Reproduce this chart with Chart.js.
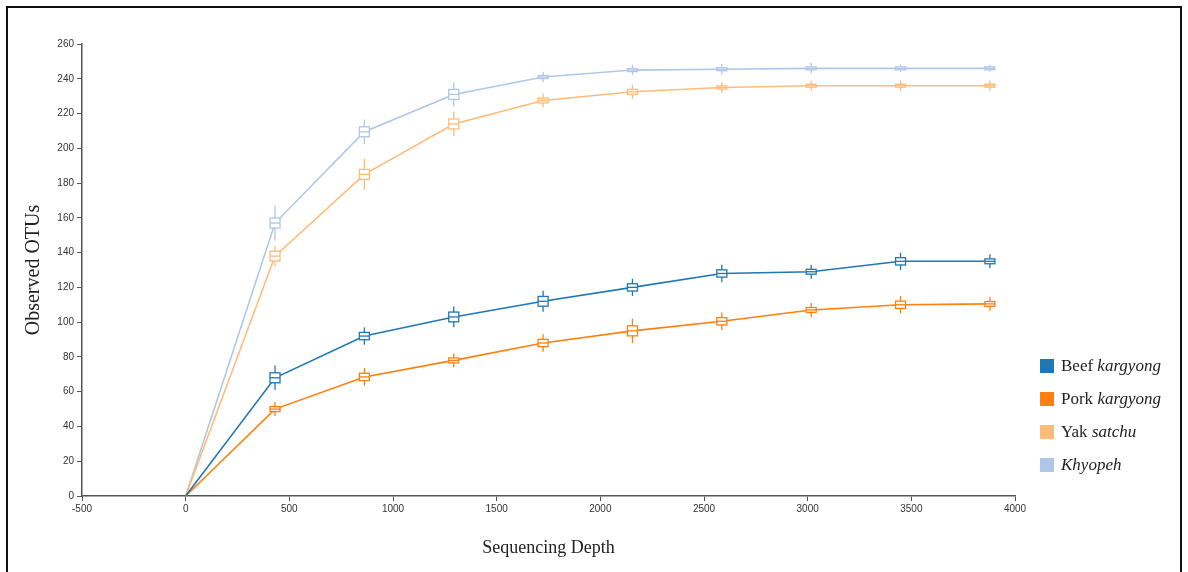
<!DOCTYPE html>
<html>
<head>
<meta charset="utf-8">
<script src="https://cdn.jsdelivr.net/npm/chart.js@4/dist/chart.umd.min.js"></script>
<style>
  body { margin: 0; background: #fff; overflow: hidden; }
  #frame { position: absolute; left: 6px; top: 6px; width: 1172px; height: 600px; border: 2px solid #111; }
  #wrap { position: absolute; left: 0; top: 0; width: 1188px; height: 572px; }
  #legend { position: absolute; left: 1040px; top: 349px; font-family: "Liberation Serif", "Times New Roman", serif; font-size: 17px; color: #222; }
  .item { display: flex; align-items: center; height: 33px; }
  .swatch { width: 14px; height: 14px; margin-right: 7px; }
</style>
</head>
<body>
<div id="frame"></div>
<div id="wrap"><canvas id="rarefaction"></canvas></div>
<div id="legend"></div>
<script>
const depths = [0, 431, 862, 1293, 1724, 2155, 2586, 3017, 3448, 3879];

const beefKargyong = [0, 68, 92, 103, 112, 120, 128, 129, 135, 135];
const porkKargyong = [0, 50, 68.5, 78, 88, 95, 100.5, 107, 110, 110.5];
const yakSatchu = [0, 138, 185, 214, 227.5, 232.5, 235, 236, 236, 236];
const khyopeh = [0, 157, 209.5, 231, 241, 245, 245.5, 246, 246, 246];

// whisker half spans
const beefSpread = [0, 5, 3, 4, 4, 3, 3, 2, 3, 2];
const porkSpread = [0, 2, 3, 2, 3, 5, 3, 2, 3, 2];
const yakSpread = [0, 4, 7, 5, 2, 2, 1, 1, 1, 1];
const khyopehSpread = [0, 8, 5, 5, 1, 1, 1, 1, 0, 0];

const seriesLabels = [
  ["Beef ", "kargyong"],
  ["Pork ", "kargyong"],
  ["Yak ", "satchu"],
  ["", "Khyopeh"]
];
const seriesColors = ["#1f77b4", "#ff7f0e", "#ffbb78", "#aec7e8"];

const yTicks = [0, 260, 20];
const xTicks = [-500, 4000, 500];

function toPoints(values) {
  return depths.map((d, i) => ({ x: d, y: values[i] }));
}

const seriesValues = [beefKargyong, porkKargyong, yakSatchu, khyopeh];
const seriesSpread = [beefSpread, porkSpread, yakSpread, khyopehSpread];

const boxPlugin = {
  id: "boxMarkers",
  afterDatasetsDraw(chart) {
    const ctx = chart.ctx;
    const xs = chart.scales.x;
    const ys = chart.scales.y;
    ctx.save();
    chart.data.datasets.forEach((ds, k) => {
      const vals = seriesValues[k];
      const spread = seriesSpread[k];
      ctx.strokeStyle = ds.borderColor;
      ctx.lineWidth = 1.3;
      depths.forEach((d, i) => {
        if (d === 0) return;
        const px = xs.getPixelForValue(d);
        const py = ys.getPixelForValue(vals[i]);
        const top = ys.getPixelForValue(vals[i] + spread[i] + 2);
        const bot = ys.getPixelForValue(vals[i] - spread[i] - 2);
        const half = Math.min(5, Math.max(1.5, (py - ys.getPixelForValue(vals[i] + spread[i])) * 0.7));
        ctx.beginPath();
        ctx.moveTo(px, top);
        ctx.lineTo(px, bot);
        ctx.stroke();
        ctx.fillStyle = "#fff";
        ctx.fillRect(px - 5, py - half, 10, half * 2);
        ctx.strokeRect(px - 5, py - half, 10, half * 2);
        ctx.beginPath();
        ctx.moveTo(px - 5, py);
        ctx.lineTo(px + 5, py);
        ctx.stroke();
      });
    });
    ctx.restore();
  }
};

const datasets = seriesValues.map((vals, k) => ({
  label: seriesLabels[k].join(""),
  data: toPoints(vals),
  borderColor: seriesColors[k],
  backgroundColor: seriesColors[k],
  borderWidth: 1.6,
  pointRadius: 0,
  tension: 0
}));

const axisColor = "#555";
const tickFont = { family: "Liberation Sans, Arial, sans-serif", size: 10 };

new Chart(document.getElementById("rarefaction"), {
  type: "line",
  data: { datasets: datasets },
  options: {
    responsive: true,
    maintainAspectRatio: false,
    animation: false,
    layout: { padding: { left: 22, top: 44, right: 173, bottom: 0 } },
    plugins: { legend: { display: false }, tooltip: { enabled: false } },
    scales: {
      x: {
        type: "linear",
        min: xTicks[0],
        max: xTicks[1],
        ticks: {
          stepSize: xTicks[2],
          color: "#333",
          font: tickFont,
          padding: 2,
          callback: (value) => String(value)
        },
        grid: { drawOnChartArea: false, tickLength: 5, color: axisColor },
        border: { color: axisColor, width: 1.5 },
        title: {
          display: true,
          text: "Sequencing Depth",
          color: "#222",
          font: { family: "Liberation Serif, Times New Roman, serif", size: 18 },
          padding: { top: 0, bottom: 13 }
        },
        afterFit(scale) { scale.height = 76; }
      },
      y: {
        min: yTicks[0],
        max: yTicks[1],
        ticks: { stepSize: yTicks[2], color: "#333", font: tickFont, padding: 3 },
        grid: { drawOnChartArea: false, tickLength: 5, color: axisColor },
        border: { color: axisColor, width: 1.5 },
        title: {
          display: true,
          text: "Observed OTUs",
          color: "#222",
          font: { family: "Liberation Serif, Times New Roman, serif", size: 20 },
          padding: { top: 0, bottom: 0 }
        },
        afterFit(scale) { scale.width = 60; }
      }
    }
  },
  plugins: [boxPlugin]
});

const legendEl = document.getElementById("legend");
seriesLabels.forEach((parts, k) => {
  const item = document.createElement("div");
  item.className = "item";
  item.innerHTML = `<span class="swatch" style="background:${seriesColors[k]}"></span>` +
    `<span>${parts[0]}<i>${parts[1]}</i></span>`;
  legendEl.appendChild(item);
});
</script>
</body>
</html>
